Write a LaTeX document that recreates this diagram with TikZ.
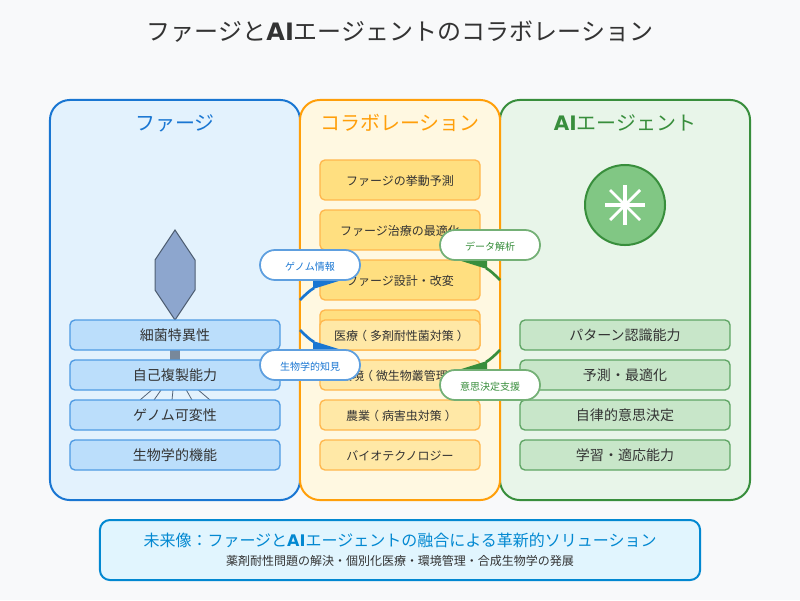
\documentclass[tikz,border=0pt]{standalone}
\usepackage{fontspec}
\setmainfont{Noto Sans CJK JP}
\newfontfamily\latinbold{DejaVu Sans Bold}
\newfontfamily\tcfont{Noto Sans CJK TC}
\newcommand{\AIword}{{\latinbold AI}}
\newcommand{\lparen}{\kern-.25em（\kern.25em}
\newcommand{\rparen}{\kern.25em）\kern-.25em}
\newcommand{\ccolon}{{\tcfont ：}}
\definecolor{bgpage}{HTML}{F8F9FA}
\definecolor{txtdark}{HTML}{333333}
\definecolor{bluefill}{HTML}{E3F2FD}
\definecolor{blueline}{HTML}{1976D2}
\definecolor{bluebox}{HTML}{BBDEFB}
\definecolor{blueedge}{HTML}{4F9BE3}
\definecolor{orangefill}{HTML}{FFF8E1}
\definecolor{orangeline}{HTML}{FF9F0A}
\definecolor{orangebox}{HTML}{FFDF80}
\definecolor{orangelite}{HTML}{FFE8A6}
\definecolor{orangeedge}{HTML}{FFB74D}
\definecolor{greenfill}{HTML}{E8F5E9}
\definecolor{greenline}{HTML}{388E3C}
\definecolor{greenbox}{HTML}{C8E6C9}
\definecolor{greenedge}{HTML}{5FA564}
\definecolor{greendisc}{HTML}{81C784}
\definecolor{skyfill}{HTML}{E1F5FE}
\definecolor{skyline}{HTML}{0288D1}
\definecolor{capsid}{HTML}{8DA6CE}
\definecolor{capsidedge}{HTML}{4F5F73}
\definecolor{tailgray}{HTML}{78889A}
\tikzset{
  panel/.style={draw=#1, line width=1.42pt, rounded corners=0.5cm, minimum height=10cm, inner sep=0pt},
  head/.style={text=#1, font=\fontsize{14.2}{17}\selectfont},
  card/.style={rounded corners=0.125cm, line width=0.95pt, inner sep=0pt, text=txtdark},
  bluecard/.style={card, draw=blueedge, fill=bluebox, minimum width=5.25cm, minimum height=0.75cm, font=\fontsize{9.96}{12}\selectfont},
  greencard/.style={card, draw=greenedge, fill=greenbox, minimum width=5.25cm, minimum height=0.75cm, font=\fontsize{9.96}{12}\selectfont},
  tallcard/.style={card, draw=orangeedge, fill=orangebox, minimum width=4cm, minimum height=1cm, text height=8.9pt, text depth=1pt, font=\fontsize{8.53}{10}\selectfont},
  lowcard/.style={card, draw=orangeedge, fill=orangelite, minimum width=4cm, minimum height=0.75cm, text height=8.9pt, text depth=1pt, font=\fontsize{8.53}{10}\selectfont},
  bubble/.style={draw=#1!70!white, fill=white, text=#1, rounded corners=0.375cm, line width=1.25pt, minimum width=2.5cm, minimum height=0.75cm, inner sep=0pt, text height=8.4pt, text depth=0.85pt, font=\fontsize{7.11}{9}\selectfont},
  link/.style={#1, line width=1.9pt},
}
\begin{document}
\begin{tikzpicture}[x=0.025cm, y=-0.025cm]
      \useasboundingbox (0,0) rectangle (800,600);
      \fill[bgpage] (0,0) rectangle (800,600);
      \node (title) at (400,32) [text=txtdark, font=\fontsize{17.07}{20}\selectfont] {ファージと\AIword{}エージェントのコラボレーション};
      % three columns
      \node (phagepanel) at (175,300) [panel=blueline, fill=bluefill, minimum width=6.25cm] {};
      \node (aipanel) at (625,300) [panel=greenline, fill=greenfill, minimum width=6.25cm] {};
      \node (collabpanel) at (400,300) [panel=orangeline, fill=orangefill, minimum width=5cm] {};
      \node (phagehead) at (175,123) [head=blueline] {ファージ};
      \node (collabhead) at (400,123) [head=orangeline] {コラボレーション};
      \node (aihead) at (625,123) [head=greenline] {\AIword{}エージェント};
      % phage
      \coordinate (fan) at (175,370);
      \foreach \fx in {140,154,172,192,210} {
        \coordinate (foot) at (\fx,400);
        \draw[color=capsidedge, line width=0.55pt] (fan) -- (foot);
      }
      \fill[tailgray] (170,320) rectangle (180,380);
      \draw[draw=capsidedge, line width=0.71pt, fill=capsid] (175,230) -- (195,260) -- (195,290) -- (175,320) -- (155,290) -- (155,260) -- cycle;
      \node (b1) at (175,335) [bluecard] {細菌特異性};
      \node (b2) at (175,375) [bluecard] {自己複製能力};
      \node (b3) at (175,415) [bluecard] {ゲノム可変性};
      \node (b4) at (175,455) [bluecard] {生物学的機能};
      % agent
      \node (hub) at (625,205) [draw=greenline, fill=greendisc, circle, line width=1.42pt, minimum size=2cm, inner sep=0pt] {};
      \draw[white, line width=2.4pt] (625,185) -- (625,225) (605,205) -- (645,205);
      \draw[white, line width=2pt] (610,190) -- (640,220) (610,220) -- (640,190);
      \node (g1) at (625,335) [greencard] {パターン認識能力};
      \node (g2) at (625,375) [greencard] {予測・最適化};
      \node (g3) at (625,415) [greencard] {自律的意思決定};
      \node (g4) at (625,455) [greencard] {学習・適応能力};
      % collaboration
      \node (o1) at (400,180) [tallcard] {ファージの挙動予測};
      \node (o2) at (400,230) [tallcard] {ファージ治療の最適化};
      \node (o3) at (400,280) [tallcard] {ファージ設計・改変};
      \node (o4) at (400,330) [tallcard] {};
      \node (o5) at (400,335) [lowcard] {医療\lparen{}多剤耐性菌対策\rparen};
      \node (o6) at (400,375) [lowcard] {環境\lparen{}微生物叢管理\rparen};
      \node (o7) at (400,415) [lowcard] {農業\lparen{}病害虫対策\rparen};
      \node (o8) at (400,455) [lowcard] {バイオテクノロジー};
      % links
      \coordinate (l1) at (300,300);
      \coordinate (m1) at (314,288);
      \coordinate (l2) at (300,330);
      \coordinate (m2) at (314,342);
      \coordinate (r1) at (500,280);
      \coordinate (s1) at (486,268);
      \coordinate (r2) at (500,350);
      \coordinate (s2) at (486,362);
      \draw[link=blueline] (l1) .. controls (305,295) and (309,291) .. (m1);
      \draw[link=blueline] (l2) .. controls (305,335) and (309,339) .. (m2);
      \draw[link=greenline] (r1) .. controls (495,275) and (491,271) .. (s1);
      \draw[link=greenline] (r2) .. controls (495,355) and (491,359) .. (s2);
      \fill[blueline] (313,279) -- (345,279) -- (313,289) -- cycle;
      \fill[blueline] (313,351) -- (345,351) -- (313,341) -- cycle;
      \fill[greenline] (487,259) -- (455,259) -- (487,269) -- cycle;
      \fill[greenline] (487,371) -- (455,371) -- (487,361) -- cycle;
      \node (t1) at (310,265) [bubble=blueline] {ゲノム情報};
      \node (t2) at (310,365) [bubble=blueline] {生物学的知見};
      \node (t3) at (490,245) [bubble=greenline] {データ解析};
      \node (t4) at (490,385) [bubble=greenline] {意思決定支援};
      % future
      \node (future) at (400,550) [draw=skyline, fill=skyfill, line width=1.42pt, rounded corners=0.25cm, minimum width=15cm, minimum height=1.5cm, inner sep=0pt] {};
      \node (futuremain) at (400,540) [text=skyline, font=\fontsize{11.38}{14}\selectfont] {未来像\ccolon{}ファージと\AIword{}エージェントの融合による革新的ソリューション};
      \node (futuresub) at (400,561) [text=txtdark, font=\fontsize{8.53}{10}\selectfont] {薬剤耐性問題の解決・個別化医療・環境管理・合成生物学の発展};
    \end{tikzpicture}
\end{document}
